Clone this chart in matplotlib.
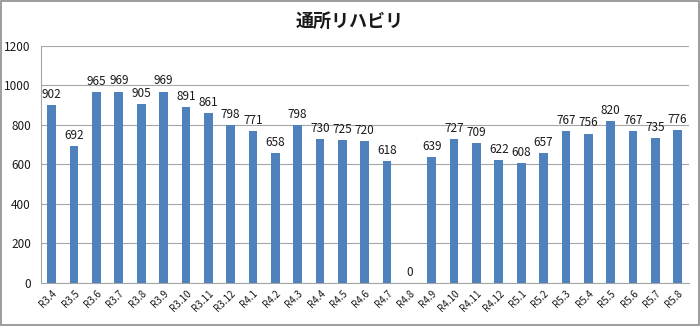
import matplotlib
matplotlib.use("Agg")
import matplotlib.pyplot as plt
from matplotlib.patches import Rectangle

plt.rcParams['font.family'] = ['Noto Sans CJK JP', 'DejaVu Sans']

months = ["R3.4", "R3.5", "R3.6", "R3.7", "R3.8", "R3.9", "R3.10", "R3.11", "R3.12",
          "R4.1", "R4.2", "R4.3", "R4.4", "R4.5", "R4.6", "R4.7", "R4.8", "R4.9",
          "R4.10", "R4.11", "R4.12", "R5.1", "R5.2", "R5.3", "R5.4", "R5.5", "R5.6",
          "R5.7", "R5.8"]
counts = [902, 692, 965, 969, 905, 969, 891, 861, 798,
          771, 658, 798, 730, 725, 720, 618, 0, 639,
          727, 709, 622, 608, 657, 767, 756, 820, 767,
          735, 776]
yticks = [0, 200, 400, 600, 800, 1000, 1200]

BAR = "#4F81BD"
GRID = "#A6A6A6"

fig = plt.figure(figsize=(7, 3.26), dpi=100, facecolor="white")
ax = fig.add_axes([0.058, 0.132, 0.926, 0.727])

x = list(range(len(months)))
ax.bar(x, counts, width=0.39, color=BAR, zorder=3)
for xi, v in zip(x, counts):
    ax.annotate(str(v), (xi, v), xytext=(0, 3), textcoords="offset points",
                ha="center", va="bottom", fontsize=8.5, color="#1a1a1a")

ax.set_xlim(-0.5, len(months) - 0.5)
ax.set_ylim(0, 1200)
ax.set_yticks(yticks)
ax.set_yticklabels([str(t) for t in yticks], fontsize=8.5)
ax.set_xticks(x)
ax.set_xticklabels(months, rotation=45, ha="right", rotation_mode="anchor", fontsize=7)
ax.tick_params(axis="both", length=0, pad=7, colors="#1a1a1a")
ax.tick_params(axis="x", pad=4)
ax.yaxis.grid(True, color=GRID, linewidth=0.8, zorder=0)
for side in ("top", "right"):
    ax.spines[side].set_visible(False)
ax.spines["left"].set_color(GRID)
ax.spines["bottom"].set_color(GRID)

fig.text(0.5, 0.935, "通所リハビリ", ha="center", va="center",
         fontsize=13, fontweight="bold", color="#1a1a1a")

# outer chart frame
fig.patches.append(Rectangle((0.002, 0.003), 0.996, 0.994, transform=fig.transFigure,
                             fill=False, edgecolor="#8c8c8c", linewidth=1.2))

fig.savefig("out.png", dpi=100, facecolor="white")
